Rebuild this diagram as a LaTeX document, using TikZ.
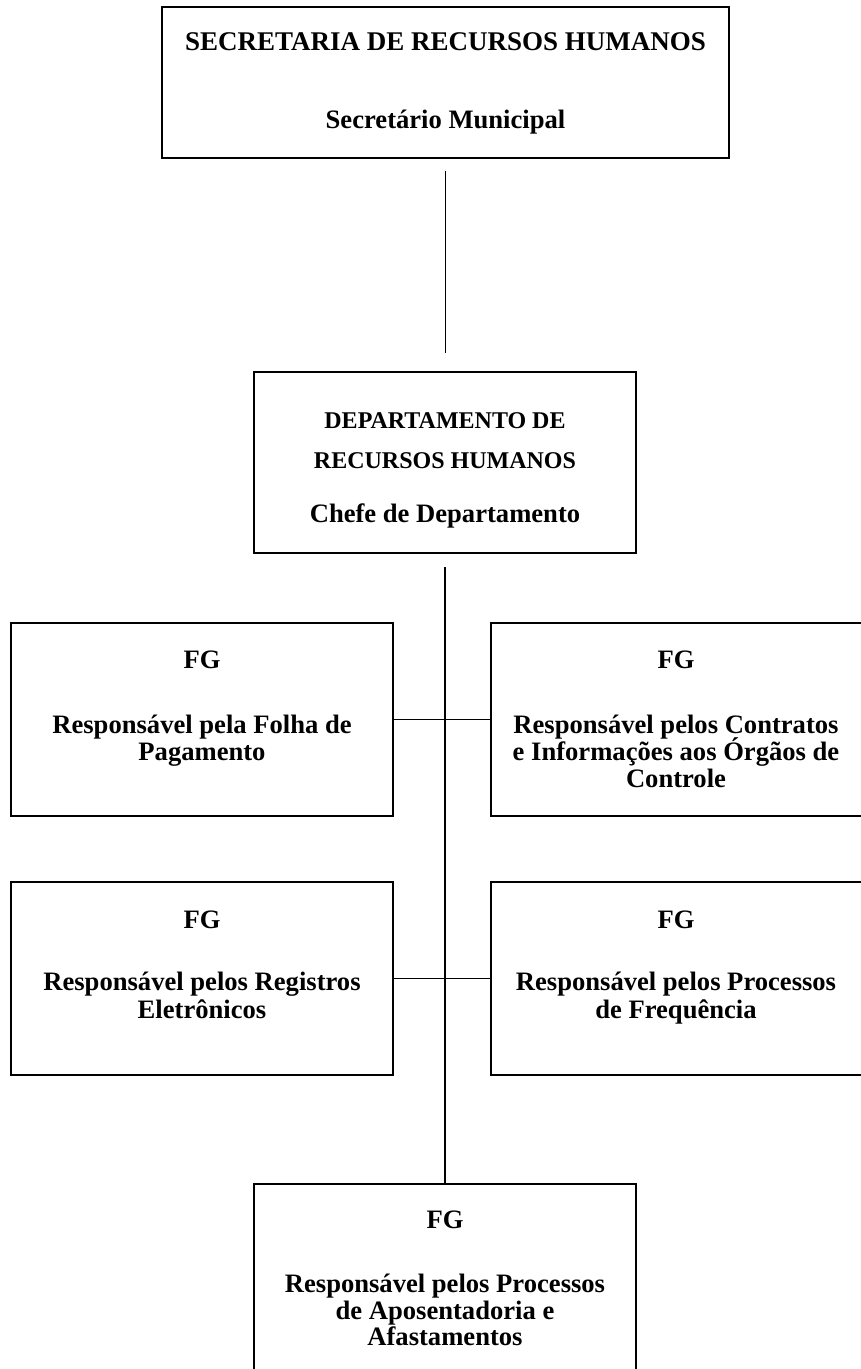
\documentclass[tikz,border=0pt]{standalone}
\usepackage{fontspec}
\setmainfont{Liberation Serif}
\begin{document}
\begin{tikzpicture}[x=1pt,y=-1pt,
  orgbox/.style={draw, line width=1.9pt, inner sep=0pt, outer sep=0pt},
  conn/.style={line width=1.9pt},
  big/.style={anchor=base, inner sep=0pt, font=\bfseries\fontsize{27}{29}\selectfont},
  mid/.style={anchor=base, inner sep=0pt, font=\bfseries\fontsize{26.6}{28}\selectfont},
  small/.style={anchor=base, inner sep=0pt, font=\bfseries\fontsize{24}{26}\selectfont}]
\useasboundingbox[fill=white] (0,0) rectangle (861,1369);
% boxes
\node[orgbox, minimum width=567pt, minimum height=151pt] (sec) at (445.5,82.5) {};
\node[orgbox, minimum width=382pt, minimum height=181pt] (dep) at (445,462.5) {};
\node[orgbox, minimum width=382pt, minimum height=193pt] (l1) at (202,719.5) {};
\node[orgbox, minimum width=372pt, minimum height=193pt] (r1) at (677,719.5) {};
\node[orgbox, minimum width=382pt, minimum height=193pt] (l2) at (202,978.5) {};
\node[orgbox, minimum width=372pt, minimum height=193pt] (r2) at (677,978.5) {};
\node[orgbox, minimum width=382pt, minimum height=196pt] (bot) at (445,1282) {};
% connectors
\draw[conn, shorten <=13pt, shorten >=19pt] (sec.south) -- (sec.south |- dep.north);
\draw[conn, shorten <=14pt] (dep.south) -- (bot.north);
\draw[conn] (l1.east) -- (r1.west);
\draw[conn] (l2.east) -- (r2.west);
% texts
\node[big] (s1) at (445.5,50) {SECRETARIA DE RECURSOS HUMANOS};
\node[mid] (s2) at (445.5,128) {Secretário Municipal};
\node[small] (d1) at (445,428) {DEPARTAMENTO DE};
\node[small] (d2) at (445,468) {RECURSOS HUMANOS};
\node[mid] (d3) at (445,522) {Chefe de Departamento};
\node[mid] (a0) at (202,668) {FG};
\node[mid] (a1) at (202,733) {Responsável pela Folha de};
\node[mid] (a2) at (202,760) {Pagamento};
\node[mid] (b0) at (676,668) {FG};
\node[mid] (b1) at (676,733) {Responsável pelos Contratos};
\node[mid] (b2) at (676,760) {e Informações aos Órgãos de};
\node[mid] (b3) at (676,787) {Controle};
\node[mid] (c0) at (202,928) {FG};
\node[mid] (c1) at (202,990) {Responsável pelos Registros};
\node[mid] (c2) at (202,1018) {Eletrônicos};
\node[mid] (e0) at (676,928) {FG};
\node[mid] (e1) at (676,990) {Responsável pelos Processos};
\node[mid] (e2) at (676,1018) {de Frequência};
\node[mid] (f0) at (445,1228) {FG};
\node[mid] (f1) at (445,1292) {Responsável pelos Processos};
\node[mid] (f2) at (445,1319) {de Aposentadoria e};
\node[mid] (f3) at (445,1345) {Afastamentos};
\end{tikzpicture}
\end{document}
